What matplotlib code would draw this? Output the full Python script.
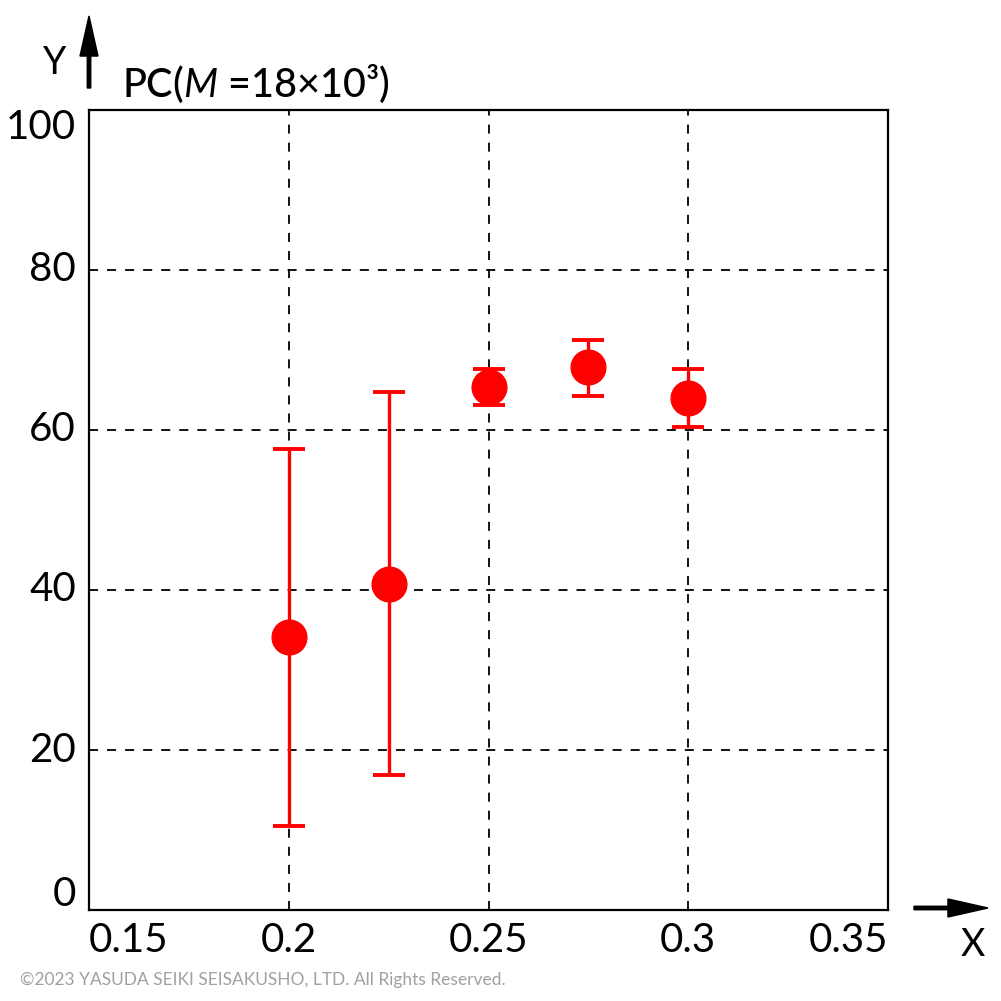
import matplotlib.pyplot as plt
from matplotlib.patches import FancyArrow

# data
x = [0.2, 0.225, 0.25, 0.275, 0.3]
y = [34.1, 40.7, 65.4, 67.9, 64.0]
y_hi = [57.6, 64.7, 67.6, 71.25, 67.6]
y_lo = [10.5, 16.9, 63.1, 64.25, 60.4]

xticks = [0.15, 0.2, 0.25, 0.3, 0.35]
xlabels = ["0.15", "0.2", "0.25", "0.3", "0.35"]
yticks = [0, 20, 40, 60, 80, 100]

err = [[a - b for a, b in zip(y, y_lo)], [b - a for a, b in zip(y, y_hi)]]

plt.rcParams['font.family'] = ['Lato', 'DejaVu Sans']
plt.rcParams['mathtext.fontset'] = 'custom'
plt.rcParams['mathtext.it'] = 'Lato:italic'
plt.rcParams['mathtext.rm'] = 'Lato'
fig = plt.figure(figsize=(10.01, 10.01), dpi=100)
W = H = 1001
ax = fig.add_axes([89 / W, 1 - 910 / H, 799 / W, 800 / H])

ax.errorbar(x, y, yerr=err, fmt='o', color='#ff0000', ms=25,
            elinewidth=2.4, capsize=11.5, capthick=2.8, zorder=3)

ax.set_xlim(0.15, 0.35)
ax.set_ylim(0, 100)
ax.set_xticks(xticks)
ax.set_yticks(yticks)
ax.grid(True, ls=(0, (5, 5)), color='black', lw=1.3)
ax.tick_params(length=0, labelbottom=False, labelleft=False)
for s in ax.spines.values():
    s.set_linewidth(1.6)

# tick labels placed by hand (end labels pulled inside)
for v, t in zip(xticks, xlabels):
    ha = 'center'
    if v == xticks[0]:
        ha = 'left'
    elif v == xticks[-1]:
        ha = 'right'
    ax.annotate(t, (v, 0), xycoords=('data', 'axes fraction'),
                xytext=(0, -12), textcoords='offset pixels',
                ha=ha, va='top', fontsize=29)
for v in yticks:
    dy = 0
    if v == 0:
        dy = 16
    elif v == 100:
        dy = -18
    ax.annotate(str(v), (0, v), xycoords=('axes fraction', 'data'),
                xytext=(-13, dy), textcoords='offset pixels',
                ha='right', va='center', fontsize=29)

# axis arrows and labels
fig.patches.append(FancyArrow(
    89 / W, 1 - 88 / H, 0, 72 / H, width=0.0035, head_width=0.018,
    head_length=0.04, color='black', transform=fig.transFigure,
    length_includes_head=True))
fig.patches.append(FancyArrow(
    914 / W, 1 - 908 / H, 74 / W, 0, width=0.0035, head_width=0.018,
    head_length=0.04, color='black', transform=fig.transFigure,
    length_includes_head=True))
fig.text(55 / W, 1 - 63 / H, "Y", fontsize=27, ha='center', va='center')
fig.text(973 / W, 1 - 945 / H, "X", fontsize=27, ha='center', va='center')
fig.text(122 / W, 1 - 97 / H, r"PC($\it{M}$ =18×10³)", fontsize=28.5,
         ha='left', va='baseline', fontweight='medium')
fig.text(20 / W, 1 - 980 / H,
         "©2023 YASUDA SEIKI SEISAKUSHO, LTD. All Rights Reserved.",
         fontsize=12.5, color='#a0a0a0', ha='left', va='center')

fig.savefig('out.png', dpi=100)
